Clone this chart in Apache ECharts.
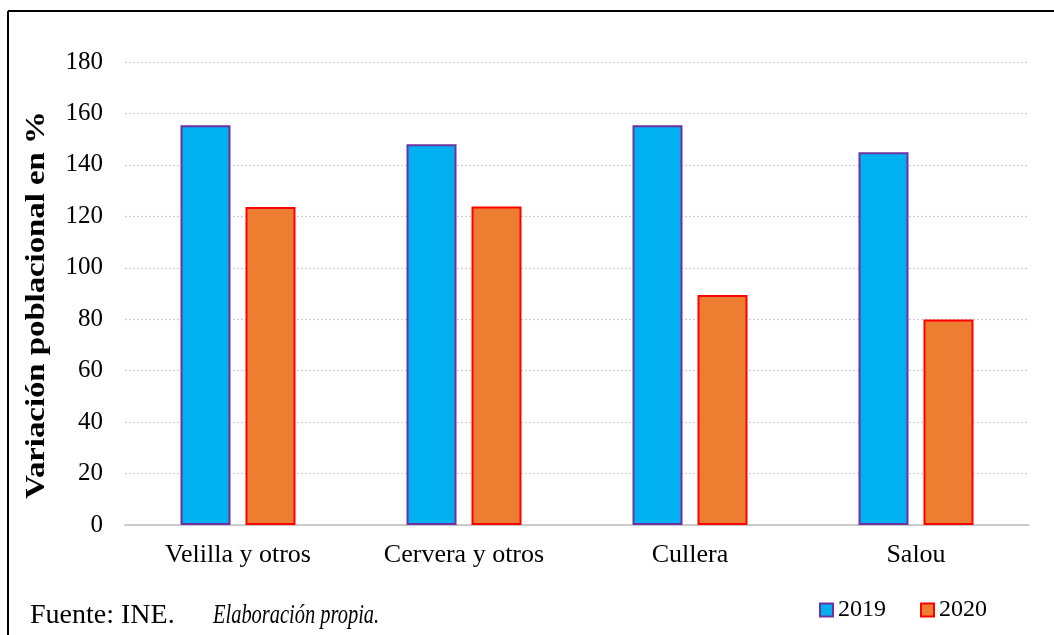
<!DOCTYPE html>
<html>
<head>
<meta charset="utf-8">
<script src="https://cdn.jsdelivr.net/npm/echarts@6/dist/echarts.min.js"></script>
<style>
  html, body { margin: 0; padding: 0; background: #fff; }
  #chart { width: 1054px; height: 635px; }
</style>
</head>
<body>
<div id="chart"></div>
<script>
// Municipios y variación poblacional (%)
const categories = ['Velilla y otros', 'Cervera y otros', 'Cullera', 'Salou'];
const values2019 = [155.4, 148.0, 155.4, 144.9];
const values2020 = [123.6, 123.8, 89.4, 79.9];
const yTicks = { min: 0, max: 180, interval: 20 };

const FONT = '"Liberation Serif", "Times New Roman", serif';

const chart = echarts.init(document.getElementById('chart'), null, { renderer: 'canvas' });

chart.setOption({
  backgroundColor: '#ffffff',
  animation: false,
  grid: { left: 125, right: 25, top: 62, bottom: 110 },
  xAxis: {
    type: 'category',
    data: categories,
    axisTick: { show: false },
    axisLine: { lineStyle: { color: '#bfbfbf', width: 1.5 } },
    axisLabel: { color: '#000', fontFamily: FONT, fontSize: 26, margin: 17 }
  },
  yAxis: {
    type: 'value',
    min: yTicks.min,
    max: yTicks.max,
    interval: yTicks.interval,
    axisLine: { show: false },
    axisTick: { show: false },
    axisLabel: { color: '#000', fontFamily: FONT, fontSize: 25, margin: 22 },
    splitLine: { lineStyle: { color: '#d0d0d0', type: [2, 2], width: 1.3 } }
  },
  legend: {
    left: 814,
    top: 593,
    icon: 'rect',
    itemWidth: 13,
    itemHeight: 13,
    itemGap: 34,
    textStyle: { color: '#000', fontFamily: FONT, fontSize: 24, padding: [0, 0, 0, 0] },
    data: ['2019', '2020']
  },
  series: [
    {
      name: '2019',
      type: 'bar',
      data: values2019,
      barWidth: 50,
      barGap: '30%',
      itemStyle: { color: '#00b0f0', borderColor: '#7030a0', borderWidth: 2 }
    },
    {
      name: '2020',
      type: 'bar',
      data: values2020,
      barWidth: 50,
      itemStyle: { color: '#ed7d31', borderColor: '#ff0000', borderWidth: 2 }
    }
  ],
  graphic: [
    // marco exterior (bordes superior e izquierdo)
    { type: 'line', shape: { x1: 8, y1: 11, x2: 1054, y2: 11 }, style: { stroke: '#000', lineWidth: 2 } },
    { type: 'line', shape: { x1: 8, y1: 11, x2: 8, y2: 635 }, style: { stroke: '#000', lineWidth: 2 } },
    // título del eje vertical
    {
      type: 'text',
      x: 37, y: 305,
      rotation: Math.PI / 2,
      scaleX: 1.17,
      style: {
        text: 'Variación poblacional en %',
        fontFamily: FONT, fontSize: 28, fontWeight: 'bold', fill: '#000',
        align: 'center', verticalAlign: 'middle'
      }
    },
    // pie de fuente
    {
      type: 'text', x: 30, y: 616,
      style: { text: 'Fuente: INE.', fontFamily: FONT, fontSize: 28, fill: '#000', verticalAlign: 'middle' }
    },
    {
      type: 'text', x: 213, y: 616,
      scaleX: 0.73,
      style: { text: 'Elaboración propia.', fontFamily: FONT, fontSize: 28, fontStyle: 'italic', fill: '#000', verticalAlign: 'middle' }
    }
  ]
});
</script>
</body>
</html>
